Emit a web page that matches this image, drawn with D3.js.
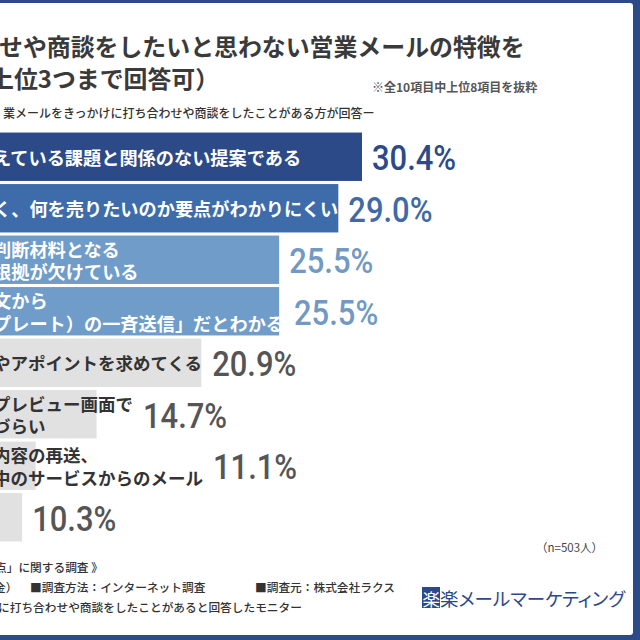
<!DOCTYPE html>
<html><head><meta charset="utf-8">
<script src="https://cdn.jsdelivr.net/npm/d3@7"></script>
<style>
html,body{margin:0;padding:0;background:#fff;}
svg{display:block;}
text{font-family:"Noto Sans CJK JP","Noto Sans",sans-serif;}
.palt{font-feature-settings:"palt";}
</style></head><body>
<svg id="chart" width="640" height="640"></svg>
<script>
// ---- data ----
const categories = ["提案のずれ","要点不明","根拠不足","一斉送信","アポ要求","プレビュー","再送","その他"];
const labelLines = [
  ["えている課題と関係のない提案である"],
  ["く、何を売りたいのか要点がわかりにくい"],
  ["判断材料となる","根拠が欠けている"],
  ["文から","プレート）の一斉送信」だとわかる"],
  ["やアポイントを求めてくる"],
  ["プレビュー画面で","づらい"],
  ["内容の再送、","中のサービスからのメール"],
  [""]
];
const values = [30.4, 29.0, 25.5, 25.5, 20.9, 14.7, 11.1, 10.3];
const valueLabels = ["30.4%","29.0%","25.5%","25.5%","20.9%","14.7%","11.1%","10.3%"];
const barColors = ["#2c4a88","#3e6caa","#6f9cc9","#6f9cc9","#e1e1e1","#e1e1e1","#e1e1e1","#e1e1e1"];
const valueColors = ["#2c4a88","#3f6aa8","#7199c4","#7199c4","#555555","#555555","#555555","#555555"];
const labelColors = ["#ffffff","#ffffff","#ffffff","#ffffff","#333333","#333333","#333333","#333333"];
const titleLines = ["せや商談をしたいと思わない営業メールの特徴を","上位3つまで回答可）"];
const noteText = "※全10項目中上位8項目を抜粋";
const subtitleText = "業メールをきっかけに打ち合わせや商談をしたことがある方が回答ー";
const sampleText = "（n=503人）";
const footLine1 = "点」に関する調査 》";
const footLine2 = ["金）","■調査方法：インターネット調査","■調査元：株式会社ラクス"];
const footLine3 = "に打ち合わせや商談をしたことがあると回答したモニター";
const logoMark = "楽";
const logoText = "楽メールマーケティング";

// ---- layout ----
const svg = d3.select("#chart");
const navy = "#2c4a88";
svg.append("rect").attr("x",0).attr("y",0).attr("width",640).attr("height",640).attr("fill",navy);
svg.append("rect").attr("x",-10).attr("y",3).attr("width",643).attr("height",632).attr("rx",3).attr("fill","#ffffff");

// titles
svg.append("text").attr("x",-1).attr("y",56).attr("font-size",23.9).attr("font-weight",700)
  .attr("fill","#3a3a3a").text(titleLines[0]);
svg.append("text").attr("x",-10).attr("y",88).attr("font-size",23.9).attr("font-weight",700)
  .attr("fill","#3a3a3a").text(titleLines[1]);
svg.append("text").attr("x",372).attr("y",92).attr("font-size",12).attr("font-weight",700)
  .attr("fill","#555").text(noteText);
svg.append("text").attr("x",3).attr("y",118).attr("font-size",12).attr("font-weight",500)
  .attr("fill","#333").text(subtitleText);

// scales
const x = d3.scaleLinear().domain([0, d3.max(values)]).range([-152, 362]);
const y = d3.scaleBand().domain(categories).range([131, 543]).paddingInner(0.06).paddingOuter(0.03);

const rows = categories.map((c,i)=>({c, i, v:values[i], lines:labelLines[i]}));

svg.append("g").selectAll("rect").data(rows).join("rect")
  .attr("x", x(0)).attr("y", d=>y(d.c))
  .attr("width", d=>x(d.v)-x(0)).attr("height", y.bandwidth())
  .attr("fill", d=>barColors[d.i]);

const labelX = -7, lineH = 22.5;
const labelG = svg.append("g");
rows.forEach(d=>{
  const cy = y(d.c) + y.bandwidth()/2;
  const n = d.lines.length;
  let maxEnd = 0;
  d.lines.forEach((t,k)=>{
    const el = labelG.append("text")
      .attr("x", labelX).attr("y", cy + (k-(n-1)/2)*lineH)
      .attr("dominant-baseline","central")
      .attr("font-size", d.i < 4 ? 18.2 : 17.5).attr("font-weight",700)
      .attr("fill", labelColors[d.i]).text(t);
    maxEnd = Math.max(maxEnd, labelX + el.node().getComputedTextLength());
  });
  d.labelEnd = maxEnd;
});

svg.append("g").selectAll("text").data(rows).join("text")
  .attr("transform", d=>`translate(${Math.max(x(d.v), d.labelEnd)+10},${y(d.c)+y.bandwidth()/2+1}) scale(0.86,1)`)
  .attr("dominant-baseline","central")
  .style("font-family","Roboto, 'DejaVu Sans', sans-serif")
  .attr("font-size",36).attr("font-weight",500)
  .attr("fill", d=>valueColors[d.i])
  .text(d=>valueLabels[d.i]);

// footer
svg.append("text").attr("x",536).attr("y",552).attr("font-size",11.5).attr("fill","#444").text(sampleText);
svg.append("text").attr("x",-5).attr("y",572).attr("font-size",11.7).attr("font-weight",500).attr("fill","#333").text(footLine1);
const fx = [-6, 30, 255];
footLine2.forEach((t,k)=>{
  svg.append("text").attr("x",fx[k]).attr("y",592).attr("font-size",11.7).attr("font-weight",500).attr("fill","#333").text(t);
});
svg.append("text").attr("x",-2).attr("y",612).attr("font-size",11.7).attr("font-weight",500).attr("fill","#333").text(footLine3);

// logo
svg.append("rect").attr("x",422).attr("y",587).attr("width",18).attr("height",21).attr("fill",navy);
svg.append("text").attr("x",422.5).attr("y",598).attr("dominant-baseline","central").attr("font-size",17.5)
  .attr("fill","#fff").text(logoMark);
svg.append("text").attr("class","palt").attr("x",440).attr("y",598).attr("dominant-baseline","central").attr("font-size",18.5)
  .attr("fill",navy).text(logoText);
</script>
</body></html>
